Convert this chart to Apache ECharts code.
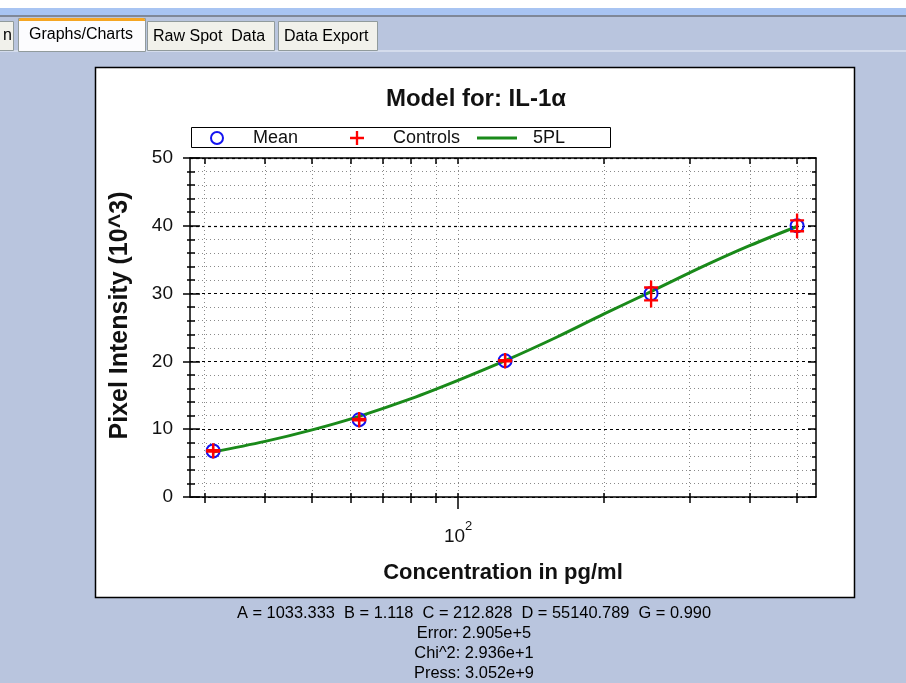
<!DOCTYPE html>
<html><head><meta charset="utf-8">
<script src="https://cdn.jsdelivr.net/npm/echarts@6/dist/echarts.min.js"></script>
<style>html,body{margin:0;padding:0;background:#B9C5DE;}#c{width:906px;height:683px;}</style>
</head><body><div id="c"></div>
<script>
// ---- data ----
const concentrations = [31.25, 62.5, 125, 250, 500];
const meanValues = [6.8, 11.4, 20.1, 30.0, 40.0];
const controlConcentrations = [31.25, 31.25, 62.5, 62.5, 125, 125, 250, 250, 500, 500];
const controlValues = [6.7, 6.9, 11.3, 11.5, 20.0, 20.2, 30.9, 29.0, 40.8, 39.2];
const fitConcentrations = [31.25, 40, 50, 62.5, 80, 100, 125, 160, 200, 250, 320, 400, 500];
const fitValues = [6.65, 8.2, 9.9, 11.9, 14.5, 17.2, 20.1, 23.6, 27.0, 30.3, 34.0, 37.1, 39.9];
const xTickValues = [30, 40, 50, 60, 70, 80, 90, 100, 200, 300, 400, 500];
const xLabelValues = [100];
const titleText = 'Model for: IL-1α';
const legendNames = ['Mean', 'Controls', '5PL'];
const xAxisName = 'Concentration in pg/ml';
const yAxisName = 'Pixel Intensity (10^3)';
const tabLabels = ['Graphs/Charts', 'Raw Spot  Data', 'Data Export'];
const fitSummary = ['A = 1033.333  B = 1.118  C = 212.828  D = 55140.789  G = 0.990', 'Error: 2.905e+5', 'Chi^2: 2.936e+1', 'Press: 3.052e+9'];

const FF = '"Liberation Sans", Arial, sans-serif';
const BLUE = '#1414F0', RED = '#FF0000', GREEN = '#1A8A1A';
const plusPath = 'path://M5,0H7V5H12V7H7V12H5V7H0V5H5Z';
const axisBlack = {color: '#000', width: 1.5};

const chart = echarts.init(document.getElementById('c'), null, {renderer: 'canvas'});

const xBase = {type: 'log', logBase: 10, min: 28, max: 547};
const yBase = {type: 'value', min: 0, max: 50, interval: 10};

const graphics = [
  {type: 'rect', z: -20, shape: {x: 0, y: 0, width: 906, height: 8}, style: {fill: '#FFFFFF'}},
  {type: 'rect', z: -20, shape: {x: 0, y: 8, width: 906, height: 7}, style: {fill: '#A8C4F2'}},
  {type: 'rect', z: -20, shape: {x: 0, y: 15, width: 906, height: 2}, style: {fill: '#7F8898'}},
  {type: 'rect', z: -19, shape: {x: 0, y: 50, width: 906, height: 2}, style: {fill: '#D4DCEC'}},
  // tabs
  {type: 'rect', z: -15, shape: {x: -6.5, y: 21.5, width: 20, height: 29}, style: {fill: '#F1F1EB', stroke: '#919B9C', lineWidth: 1}},
  {type: 'text', z: -14, style: {text: 'n', x: 12, y: 36, font: '16px ' + FF, fill: '#000', textAlign: 'right', textVerticalAlign: 'middle'}},
  {type: 'rect', z: -15, shape: {x: 147.5, y: 21.5, width: 127, height: 29}, style: {fill: '#F1F1EB', stroke: '#919B9C', lineWidth: 1}},
  {type: 'rect', z: -15, shape: {x: 278.5, y: 21.5, width: 99, height: 29}, style: {fill: '#F1F1EB', stroke: '#919B9C', lineWidth: 1}},
  {type: 'rect', z: -14, shape: {x: 18.5, y: 18.5, width: 127, height: 33}, style: {fill: '#FCFCFE', stroke: '#919B9C', lineWidth: 1}},
  {type: 'rect', z: -13, shape: {x: 19, y: 18, width: 126, height: 3, r: [2, 2, 0, 0]}, style: {fill: '#F5A623'}},
  {type: 'text', z: -12, style: {text: tabLabels[0], x: 29, y: 35, font: '16px ' + FF, fill: '#000', textVerticalAlign: 'middle'}},
  {type: 'text', z: -12, style: {text: tabLabels[1], x: 153, y: 37, font: '16px ' + FF, fill: '#000', textVerticalAlign: 'middle'}},
  {type: 'text', z: -12, style: {text: tabLabels[2], x: 284, y: 37, font: '16px ' + FF, fill: '#000', textVerticalAlign: 'middle'}},
  // white chart panel
  {type: 'rect', z: -10, shape: {x: 95.5, y: 67.5, width: 759, height: 530}, style: {fill: '#FFFFFF', stroke: '#000', lineWidth: 1.5}},
  // legend frame
  {type: 'rect', z: 1, shape: {x: 191.5, y: 127.5, width: 419, height: 20}, style: {fill: '#FFFFFF', stroke: '#000', lineWidth: 1}}
];
fitSummary.forEach((t, i) => {
  graphics.push({type: 'text', z: 5, style: {text: t, x: 474, y: 613 + i * 20, font: '16.4px ' + FF, fill: '#000', textAlign: 'center', textVerticalAlign: 'middle'}});
});

const option = {
  animation: false,
  backgroundColor: '#B9C5DE',
  graphic: {elements: graphics},
  title: {
    text: titleText, left: 476, top: 87, textAlign: 'center', padding: 0,
    textStyle: {fontFamily: FF, fontSize: 24, fontWeight: 'bold', color: '#111'}
  },
  legend: [
    {left: 210, top: 129, padding: 0, selectedMode: false, itemWidth: 12, itemHeight: 12,
     data: [{name: legendNames[0], icon: 'circle', itemStyle: {color: 'transparent', borderColor: BLUE, borderWidth: 2}}],
     textStyle: {fontFamily: FF, fontSize: 18, color: '#111', padding: [0, 0, 0, 25]}},
    {left: 350, top: 129, padding: 0, selectedMode: false, itemWidth: 14, itemHeight: 14,
     data: [{name: legendNames[1], icon: plusPath, itemStyle: {color: RED}}],
     textStyle: {fontFamily: FF, fontSize: 18, color: '#111', padding: [0, 0, 0, 24]}},
    {left: 477, top: 129, padding: 0, selectedMode: false, itemWidth: 40, itemHeight: 3,
     data: [{name: legendNames[2], icon: 'rect', itemStyle: {color: GREEN}}],
     textStyle: {fontFamily: FF, fontSize: 18, color: '#111', padding: [0, 0, 0, 11]}}
  ],
  grid: {left: 190, top: 158, width: 626, height: 339, containLabel: false},
  xAxis: [
    Object.assign({}, xBase, {
      position: 'bottom',
      axisLine: {show: true, onZero: false, lineStyle: axisBlack},
      axisTick: {show: true, customValues: xTickValues, length: 6, lineStyle: axisBlack},
      axisLabel: {
        customValues: xLabelValues, margin: 23, formatter: () => '{b|10}{s|2}',
        rich: {
          b: {fontFamily: FF, fontSize: 19, color: '#111', lineHeight: 26, verticalAlign: 'bottom'},
          s: {fontFamily: FF, fontSize: 13, color: '#111', lineHeight: 14, verticalAlign: 'top'}
        }
      },
      splitLine: {show: true, lineStyle: {color: '#8a8a8a', type: [1, 3], width: 1}},
      name: xAxisName, nameLocation: 'middle', nameGap: 65,
      nameTextStyle: {fontFamily: FF, fontSize: 22, fontWeight: 'bold', color: '#111'}
    }),
    Object.assign({}, xBase, {
      position: 'bottom',
      axisLine: {show: false, onZero: false},
      axisTick: {show: true, inside: true, customValues: xTickValues, length: 4, lineStyle: axisBlack},
      axisLabel: {show: false}, splitLine: {show: false}
    }),
    Object.assign({}, xBase, {
      position: 'bottom',
      axisLine: {show: false, onZero: false},
      axisTick: {show: true, customValues: xLabelValues, length: 12, lineStyle: axisBlack},
      axisLabel: {show: false}, splitLine: {show: false}
    }),
    Object.assign({}, xBase, {
      position: 'top',
      axisLine: {show: true, onZero: false, lineStyle: axisBlack},
      axisTick: {show: true, inside: true, customValues: xTickValues, length: 6, lineStyle: axisBlack},
      axisLabel: {show: false}, splitLine: {show: false}
    })
  ],
  yAxis: [
    Object.assign({}, yBase, {
      position: 'left',
      axisLine: {show: true, onZero: false, lineStyle: axisBlack},
      axisTick: {show: true, length: 7, lineStyle: axisBlack},
      minorTick: {show: true, splitNumber: 5, length: 3, lineStyle: axisBlack},
      axisLabel: {fontFamily: FF, fontSize: 19, color: '#111', margin: 17},
      splitLine: {show: true, lineStyle: {color: '#000', type: [3, 3], width: 1.2}},
      minorSplitLine: {show: true, lineStyle: {color: '#8a8a8a', type: [1, 3], width: 1}},
      name: yAxisName, nameLocation: 'middle', nameGap: 57,
      nameTextStyle: {fontFamily: FF, fontSize: 25, fontWeight: 'bold', color: '#111', padding: [0, 0, 0, 24]}
    }),
    Object.assign({}, yBase, {
      position: 'left',
      axisLine: {show: false, onZero: false},
      axisTick: {show: true, inside: true, length: 10, lineStyle: axisBlack},
      minorTick: {show: true, splitNumber: 5, length: 5, lineStyle: axisBlack},
      axisLabel: {show: false}, splitLine: {show: false}
    }),
    Object.assign({}, yBase, {
      position: 'right',
      axisLine: {show: true, onZero: false, lineStyle: axisBlack},
      axisTick: {show: true, inside: true, length: 8, lineStyle: axisBlack},
      minorTick: {show: true, splitNumber: 5, length: 4, lineStyle: axisBlack},
      axisLabel: {show: false}, splitLine: {show: false}
    })
  ],
  series: [
    {type: 'line', name: legendNames[2], xAxisIndex: 0, yAxisIndex: 0, z: 3,
     data: fitConcentrations.map((x, i) => [x, fitValues[i]]),
     smooth: 0.35, symbol: 'none', lineStyle: {color: GREEN, width: 3}, itemStyle: {color: GREEN}},
    {type: 'scatter', name: legendNames[0], xAxisIndex: 0, yAxisIndex: 0, z: 4,
     data: concentrations.map((x, i) => [x, meanValues[i]]),
     symbol: 'circle', symbolSize: 13,
     itemStyle: {color: 'transparent', borderColor: BLUE, borderWidth: 2, opacity: 1}},
    {type: 'scatter', name: legendNames[1], xAxisIndex: 0, yAxisIndex: 0, z: 5,
     data: controlConcentrations.map((x, i) => [x, controlValues[i]]),
     symbol: plusPath, symbolSize: 14, itemStyle: {color: RED, opacity: 1}}
  ]
};
chart.setOption(option);
</script>
</body></html>
